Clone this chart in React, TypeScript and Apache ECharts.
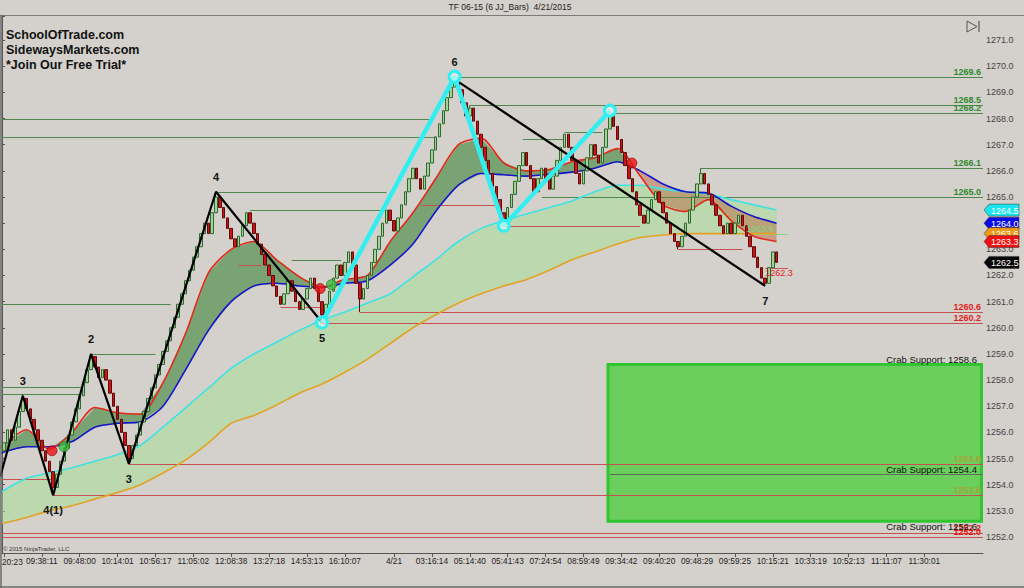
import React, { useEffect, useRef } from "react";
import * as echarts from "echarts";

// ---------------- data ----------------
const CATEGORY_COUNT = 259;
const FIRST_TIME_LABEL = "20:23";
const TIME_LABELS = ["", "09:38:11", "09:48:00", "10:14:01", "10:56:17", "11:05:02", "12:08:38", "13:27:18", "14:53:13", "16:10:07", "4/21", "03:16:14", "05:14:40", "05:41:43", "07:24:54", "08:59:49", "09:34:42", "09:40:20", "09:48:29", "09:59:25", "10:15:21", "10:33:19", "10:52:13", "11:11:07", "11:30:01"];
const TIME_LABEL_BARS = [0, 10, 20, 30, 40, 50, 60, 70, 80, 90, 103, 113, 123, 133, 143, 153, 163, 173, 183, 193, 203, 213, 223, 233, 243];

const FIRST_OPEN = 1255.3;
const CLOSES = [
  1255.6, 1256.1, 1255.7, 1256.2, 1256.8, 1257.3, 1256.9, 1256.5, 1256.1, 1255.7,
  1255.3, 1254.9, 1254.5, 1253.9, 1254.4, 1254.9, 1255.4, 1255.9, 1256.4, 1256.9,
  1257.4, 1257.9, 1258.4, 1258.9, 1258.5, 1258.1, 1258.4, 1258.0, 1257.5, 1257.0,
  1256.5, 1256.0, 1255.5, 1255.0, 1255.5, 1255.9, 1256.4, 1256.8, 1257.3, 1257.7,
  1258.2, 1258.6, 1259.1, 1259.5, 1260.0, 1260.4, 1260.9, 1261.3, 1261.8, 1262.2,
  1262.7, 1263.1, 1263.6, 1264.0, 1263.6, 1264.4, 1265.0, 1264.6, 1264.2, 1263.8,
  1263.4, 1263.1, 1263.5, 1263.9, 1264.4, 1264.0, 1263.6, 1263.2, 1262.8, 1262.4,
  1262.0, 1261.6, 1261.2, 1260.9, 1261.3, 1261.8, 1261.4, 1261.0, 1260.7, 1261.1,
  1261.5, 1261.9, 1261.5, 1261.0, 1260.5, 1260.9, 1261.4, 1261.9, 1262.4, 1262.0,
  1262.5, 1262.9, 1262.4, 1261.7, 1261.1, 1261.5, 1262.0, 1262.5, 1263.0, 1263.5,
  1264.0, 1264.5, 1264.1, 1263.7, 1264.2, 1264.7, 1265.2, 1265.7, 1266.1, 1265.7,
  1265.3, 1265.8, 1266.3, 1266.8, 1267.3, 1267.8, 1268.3, 1268.8, 1269.2, 1269.5,
  1269.1, 1268.6, 1268.1, 1268.4, 1267.9, 1267.4, 1266.9, 1266.4, 1265.9, 1265.4,
  1264.9, 1264.4, 1264.1, 1264.6, 1265.1, 1265.6, 1266.2, 1266.7, 1266.2, 1265.7,
  1265.2, 1265.7, 1266.1, 1265.7, 1265.3, 1265.8, 1266.4, 1266.9, 1267.4, 1266.9,
  1266.4, 1265.9, 1265.5, 1266.0, 1266.5, 1267.0, 1266.6, 1266.3, 1266.9, 1267.6,
  1268.1, 1267.7, 1267.2, 1266.7, 1266.2, 1265.7, 1265.2, 1264.7, 1264.3, 1264.0,
  1264.5, 1264.9, 1265.2, 1264.8, 1264.4, 1264.0, 1263.6, 1263.3, 1263.1, 1263.5,
  1264.0, 1264.5, 1265.0, 1265.5, 1265.9, 1265.5, 1265.1, 1264.7, 1264.3, 1263.9,
  1263.6, 1264.0, 1263.6, 1264.0, 1264.3, 1263.9, 1263.5, 1263.1, 1262.7, 1262.3,
  1261.9, 1261.7, 1262.3, 1262.9, 1262.5
];
const WICK_BARS = [5, 13, 23, 33, 56, 84, 94, 119, 123, 132, 160, 178, 184, 201];
const WICK_HIGHS = [1257.45, null, 1259.0, null, 1265.2, null, null, 1269.6, 1268.5, null, 1268.3, null, 1266.1, null];
const WICK_LOWS = [null, 1253.6, null, 1254.8, null, 1260.2, 1260.6, null, null, 1263.9, null, 1263.0, null, 1261.6];

// moving averages sampled at these bars
const MA_BARS = [-1, 6, 12, 18, 24, 30, 36, 42, 48, 54, 60, 66, 72, 78, 84, 90, 96, 102, 108, 114, 120, 126, 132, 138, 144, 150, 156, 162, 168, 174, 180, 186, 192, 198, 204];
const MA_FAST = [1255.4, 1256.1, 1255.35, 1256.0, 1256.95, 1256.75, 1256.7, 1257.9, 1259.8, 1262.1, 1263.0, 1263.3, 1262.6, 1261.95, 1261.55, 1261.85, 1262.0, 1263.3, 1264.4, 1265.7, 1267.0, 1267.25, 1266.3, 1266.0, 1266.05, 1266.35, 1266.5, 1266.85, 1265.8, 1264.7, 1264.45, 1264.9, 1264.1, 1263.5, 1263.3];
const MA_MID = [1255.2, 1255.45, 1255.45, 1255.65, 1256.2, 1256.35, 1256.4, 1257.0, 1258.4, 1259.9, 1261.0, 1261.6, 1261.7, 1261.6, 1261.55, 1261.7, 1261.8, 1262.4, 1263.2, 1264.45, 1265.45, 1265.9, 1265.85, 1265.8, 1265.87, 1265.95, 1266.1, 1266.35, 1266.0, 1265.5, 1265.2, 1265.15, 1264.65, 1264.25, 1264.0];
const MA_SLOW = [1253.7, 1254.25, 1254.45, 1254.65, 1254.9, 1255.15, 1255.5, 1256.2, 1256.95, 1257.7, 1258.45, 1259.0, 1259.45, 1259.9, 1260.3, 1260.6, 1260.95, 1261.3, 1261.95, 1262.6, 1263.3, 1263.8, 1264.1, 1264.35, 1264.6, 1264.85, 1265.2, 1265.45, 1265.45, 1265.3, 1265.2, 1265.1, 1264.9, 1264.7, 1264.5];
const MA_LONG = [1252.5, 1252.75, 1253.0, 1253.2, 1253.45, 1253.7, 1254.0, 1254.45, 1254.95, 1255.6, 1256.35, 1256.65, 1257.05, 1257.5, 1257.85, 1258.3, 1258.8, 1259.4, 1260.0, 1260.5, 1260.95, 1261.3, 1261.6, 1261.85, 1262.2, 1262.6, 1262.9, 1263.2, 1263.45, 1263.55, 1263.6, 1263.6, 1263.6, 1263.6, 1263.6];

// zigzags
const ZIGZAG_A_BARS = [-1, 5, 13, 23, 33, 56, 84];
const ZIGZAG_A_PRICES = [1254.3, 1257.4, 1253.6, 1259.0, 1254.8, 1265.2, 1260.2];
const ZIGZAG_B_BARS = [119.5, 201];
const ZIGZAG_B_PRICES = [1269.45, 1261.6];
const SWING_BARS = [84, 119, 132, 160];
const SWING_PRICES = [1260.2, 1269.6, 1263.9, 1268.3];
const PIVOT_BARS = [5, 13, 23, 33, 56, 84, 119, 201];
const PIVOT_PRICES = [1257.4, 1253.6, 1259.0, 1254.8, 1265.2, 1260.2, 1269.6, 1261.6];
const PIVOT_TEXT = ["3", "4(1)", "2", "3", "4", "5", "6", "7"];
const PIVOT_IS_HIGH = [true, false, true, false, true, false, true, false];

// MA cross markers
const CROSS_BARS = [12.7, 15.9, 83.5, 86.5, 165.8];
const CROSS_PRICES = [1255.3, 1255.45, 1261.5, 1261.65, 1266.3];
const CROSS_IS_UP = [false, true, false, true, false];

// horizontal levels (from bar, to bar; null = right edge)
const LEVEL_PRICES = [1269.6, 1268.5, 1268.2, 1268.0, 1267.3, 1266.1, 1265.0, 1265.2, 1264.5, 1260.9, 1259.0, 1257.75, 1257.45, 1262.6, 1267.2, 1267.5, 1263.6,
  1260.6, 1260.2, 1254.8, 1253.6, 1254.2, 1252.15, 1252.0, 1263.9, 1264.7, 1263.0, 1262.3, 1262.4, 1260.8, 1254.4];
const LEVEL_FROM = [119, 123, 160, -1, -1, 184, 142, 56, 65, -1, 23, -1, -1, 76, 137, 148, 195,
  94, 84, 33, 13, -1, -1, -1, 132, 110, 178, 201, 62, 73, 160];
const LEVEL_TO = [null, null, null, 113, 114, null, null, 101, 100, 44, 40, 21, 20, 89, 148, 158, 207,
  null, null, null, null, 13, null, null, 168, 131, 195, 207, 68, 84, null];
const LEVEL_KIND = ["g", "g", "g", "g", "g", "g", "g", "g", "g", "g", "g", "g", "g", "g", "g", "g", "lg",
  "r", "r", "r", "r", "r", "r", "r", "r", "r", "r", "r", "r", "r", "k"];

const EDGE_LABEL_PRICES = [1269.6, 1268.5, 1268.2, 1266.1, 1265.0, 1260.6, 1260.2, 1254.8, 1253.6, 1252.15, 1252.0];
const EDGE_LABEL_KIND = ["g", "g", "g", "g", "g", "r", "r", "o", "o", "r", "r"];

const INNER_LABEL_BARS = [196, 201];
const INNER_LABEL_PRICES = [1263.6, 1262.3];
const INNER_LABEL_KIND = ["lg", "r"];

const CRAB_PRICES = [1258.6, 1254.4, 1252.6];
const ZONE_FROM_BAR = 160;
const ZONE_TOP = 1258.6;
const ZONE_BOTTOM = 1252.6;

const TAG_PRICES = [1264.5, 1264.0, 1263.6, 1263.3, 1262.5];
const TAG_BG = ["#19e6ee", "#0a0ae6", "#ee9a12", "#ee1010", "#050505"];

const Y_MIN = 1251.39;
const Y_MAX = 1271.92;

// ---------------- styles ----------------
const BG = "#d4d1cc";
const FONT = '"Liberation Sans", Arial, sans-serif';
const LEVEL_COLORS: Record<string, string> = { g: "#4f874f", lg: "#86d486", r: "#c85050", k: "#5d6b5d" };
const LABEL_COLORS: Record<string, string> = { g: "#2f8a2f", r: "#e41c1c", o: "#a3a63a", lg: "#7fd67f" };

export default function App() {
  const ref = useRef<HTMLDivElement>(null);

  useEffect(() => {
    document.body.style.margin = "0";
    if (!ref.current) return;
    const chart = echarts.init(ref.current, null, { renderer: "svg" });

    const cats = Array.from({ length: CATEGORY_COUNT }, (_, i) => String(i));
    const labelAt: Record<number, string> = {};
    TIME_LABEL_BARS.forEach((b, k) => (labelAt[b] = TIME_LABELS[k]));

    const candles = CLOSES.map((c, i) => {
      const o = i === 0 ? FIRST_OPEN : CLOSES[i - 1];
      let hi = Math.max(o, c);
      let lo = Math.min(o, c);
      const w = WICK_BARS.indexOf(i);
      if (w >= 0) {
        if (WICK_HIGHS[w] != null) hi = WICK_HIGHS[w] as number;
        if (WICK_LOWS[w] != null) lo = WICK_LOWS[w] as number;
      }
      return [o, c, lo, hi];
    });

    const v = (bar: number) => bar + 0.5;
    const maLine = (arr: number[], color: string, width: number, z: number) => ({
      type: "line",
      xAxisIndex: 1,
      data: MA_BARS.map((b, k) => [v(b), arr[k]]),
      showSymbol: false,
      symbol: "none",
      smooth: 0.25,
      lineStyle: { color, width },
      z,
      silent: true,
    });

    const bandsRender = (params: any, api: any) => {
      const pt = (bar: number, price: number) => api.coord([v(bar), price]);
      const children: any[] = [];
      const up = MA_BARS.map((b, k) => pt(b, MA_SLOW[k]));
      const dn = MA_BARS.map((b, k) => pt(b, MA_LONG[k])).reverse();
      children.push({ type: "polygon", shape: { points: up.concat(dn) }, style: { fill: "rgba(168,222,150,0.55)" } });

      let sign = Math.sign(MA_FAST[0] - MA_MID[0]) || 1;
      let top: number[][] = [pt(MA_BARS[0], MA_FAST[0])];
      let bot: number[][] = [pt(MA_BARS[0], MA_MID[0])];
      const flush = () => {
        children.push({
          type: "polygon",
          shape: { points: top.concat(bot.slice().reverse()) },
          style: { fill: sign > 0 ? "rgba(45,125,40,0.55)" : "rgba(185,85,45,0.42)" },
        });
      };
      for (let k = 1; k < MA_BARS.length; k++) {
        const d0 = MA_FAST[k - 1] - MA_MID[k - 1];
        const d1 = MA_FAST[k] - MA_MID[k];
        const s1 = Math.sign(d1) || sign;
        if (s1 !== sign) {
          const t = d0 === d1 ? 0 : d0 / (d0 - d1);
          const b = MA_BARS[k - 1] + t * (MA_BARS[k] - MA_BARS[k - 1]);
          const p = MA_FAST[k - 1] + t * (MA_FAST[k] - MA_FAST[k - 1]);
          const c = pt(b, p);
          top.push(c);
          bot.push(c);
          flush();
          top = [c];
          bot = [c];
          sign = s1;
        }
        top.push(pt(MA_BARS[k], MA_FAST[k]));
        bot.push(pt(MA_BARS[k], MA_MID[k]));
      }
      flush();
      return { type: "group", children };
    };

    const option: any = {
      animation: false,
      backgroundColor: BG,
      textStyle: { fontFamily: FONT },
      grid: { left: 2, right: 41, top: 16, bottom: 35, outerBoundsMode: "none", containLabel: false },
      xAxis: [
        {
          type: "category",
          data: cats,
          boundaryGap: true,
          axisLine: { show: true, lineStyle: { color: "#555", width: 1 } },
          axisTick: {
            show: true,
            alignWithLabel: true,
            length: 4,
            interval: (idx: number) => labelAt[idx] !== undefined,
            lineStyle: { color: "#555" },
          },
          axisLabel: {
            show: true,
            interval: (idx: number) => labelAt[idx] !== undefined,
            formatter: (_val: string, idx: number) => labelAt[idx] ?? "",
            color: "#222",
            fontSize: 8.3,
            fontFamily: FONT,
            margin: 4,
            hideOverlap: false,
          },
          splitLine: { show: false },
        },
        { type: "value", min: 0, max: CATEGORY_COUNT, show: false },
      ],
      yAxis: {
        type: "value",
        position: "right",
        min: Y_MIN,
        max: Y_MAX,
        splitNumber: 20,
        axisLine: { show: true, lineStyle: { color: "#555" } },
        axisTick: { show: true, length: 3, lineStyle: { color: "#555" } },
        axisLabel: {
          color: "#444",
          fontSize: 9,
          fontFamily: FONT,
          margin: 3,
          formatter: (val: number) => (Math.abs(val - Math.round(val)) < 1e-6 ? val.toFixed(1) : ""),
        },
        splitLine: { show: false },
      },
      graphic: [
        { type: "line", shape: { x1: 0, y1: 15.5, x2: 1024, y2: 15.5 }, style: { stroke: "#7a7a7a", lineWidth: 1 }, z: 100 },
        { type: "line", shape: { x1: 1, y1: 15, x2: 1, y2: 588 }, style: { stroke: "#6a6a6a", lineWidth: 1.5 }, z: 100 },
        { type: "line", shape: { x1: 0, y1: 587, x2: 1024, y2: 587 }, style: { stroke: "#6a6a6a", lineWidth: 1.5 }, z: 100 },
        { type: "text", style: { text: FIRST_TIME_LABEL, x: 2, y: 562, textVerticalAlign: "middle", font: `8.3px ${FONT}`, fill: "#222" }, z: 100 },
        { type: "text", style: { text: "TF 06-15 (6 JJ_Bars)  4/21/2015", x: 510, y: 7, textAlign: "center", textVerticalAlign: "middle", font: `8.5px ${FONT}`, fill: "#222" }, z: 100 },
        { type: "text", style: { text: "SchoolOfTrade.com", x: 6, y: 35, textVerticalAlign: "middle", font: `bold 12.5px ${FONT}`, fill: "#111" }, z: 100 },
        { type: "text", style: { text: "SidewaysMarkets.com", x: 6, y: 50, textVerticalAlign: "middle", font: `bold 12.5px ${FONT}`, fill: "#111" }, z: 100 },
        { type: "text", style: { text: "*Join Our Free Trial*", x: 6, y: 65, textVerticalAlign: "middle", font: `bold 12.5px ${FONT}`, fill: "#111" }, z: 100 },
        { type: "text", style: { text: "© 2015 NinjaTrader, LLC", x: 3, y: 549, textVerticalAlign: "middle", font: `6px ${FONT}`, fill: "#333" }, z: 100 },
        { type: "polygon", shape: { points: [[967, 21], [977, 26.5], [967, 32]] }, style: { fill: "none", stroke: "#555", lineWidth: 1 }, z: 100 },
        { type: "line", shape: { x1: 979, y1: 21, x2: 979, y2: 32 }, style: { stroke: "#555", lineWidth: 1.2 }, z: 100 },
      ],
      series: [
        // light + crossover bands
        {
          type: "custom",
          xAxisIndex: 1,
          data: [[1, 1260]],
          renderItem: bandsRender,
          clip: true,
          z: 1,
          silent: true,
        },
        // support zone
        {
          type: "custom",
          xAxisIndex: 1,
          data: [[ZONE_FROM_BAR, ZONE_TOP]],
          clip: true,
          z: 2,
          silent: true,
          renderItem: (params: any, api: any) => {
            const a = api.coord([ZONE_FROM_BAR, ZONE_TOP]);
            const b = api.coord([CATEGORY_COUNT, ZONE_BOTTOM]);
            const cs = params.coordSys;
            return {
              type: "rect",
              shape: { x: a[0], y: a[1], width: cs.x + cs.width - a[0] - 1.5, height: b[1] - a[1] },
              style: { fill: "rgba(78,205,60,0.78)", stroke: "#2fc62f", lineWidth: 3 },
            };
          },
        },
        // levels
        {
          type: "custom",
          xAxisIndex: 1,
          data: LEVEL_PRICES.map((p, i) => [v(LEVEL_FROM[i]), p]),
          clip: true,
          z: 3,
          silent: true,
          renderItem: (params: any, api: any) => {
            const i = params.dataIndex;
            const to = LEVEL_TO[i] == null ? CATEGORY_COUNT : v(LEVEL_TO[i] as number);
            const a = api.coord([v(LEVEL_FROM[i]), LEVEL_PRICES[i]]);
            const b = api.coord([to, LEVEL_PRICES[i]]);
            const y = Math.round(a[1]) + 0.5;
            return {
              type: "line",
              shape: { x1: a[0], y1: y, x2: b[0], y2: y },
              style: { stroke: LEVEL_COLORS[LEVEL_KIND[i]], lineWidth: 1 },
            };
          },
        },
        maLine(MA_LONG, "#e3a224", 1.6, 4),
        maLine(MA_SLOW, "#3ee3e3", 1.6, 4),
        maLine(MA_MID, "#1414c8", 1.6, 4),
        maLine(MA_FAST, "#e02a1a", 1.6, 4),
        {
          type: "candlestick",
          xAxisIndex: 0,
          data: candles,
          barWidth: 3,
          z: 5,
          silent: true,
          itemStyle: {
            color: "#a9cf9a",
            color0: "#cc1414",
            borderColor: "#2a6a2a",
            borderColor0: "#5e0a0a",
            borderWidth: 1,
          },
        },
        // zigzags
        {
          type: "line",
          xAxisIndex: 1,
          data: ZIGZAG_A_BARS.map((b, k) => [v(b), ZIGZAG_A_PRICES[k]]),
          showSymbol: false,
          symbol: "none",
          lineStyle: { color: "#000", width: 2.2 },
          z: 6,
          silent: true,
        },
        {
          type: "line",
          xAxisIndex: 1,
          data: ZIGZAG_B_BARS.map((b, k) => [v(b), ZIGZAG_B_PRICES[k]]),
          showSymbol: false,
          symbol: "none",
          lineStyle: { color: "#000", width: 2.2 },
          z: 6,
          silent: true,
        },
        {
          type: "line",
          xAxisIndex: 1,
          data: SWING_BARS.map((b, k) => [v(b), SWING_PRICES[k]]),
          symbol: "circle",
          symbolSize: 11,
          showSymbol: true,
          itemStyle: { color: "rgba(225,250,250,0.6)", borderColor: "#33eef0", borderWidth: 3 },
          lineStyle: { color: "#33eef0", width: 4.5 },
          z: 7,
          silent: true,
        },
        // cross markers
        {
          type: "scatter",
          xAxisIndex: 1,
          data: CROSS_BARS.map((b, k) => ({
            value: [v(b), CROSS_PRICES[k]],
            itemStyle: CROSS_IS_UP[k]
              ? { color: "#3cc23c", borderColor: "#1f6f1f", borderWidth: 0.8 }
              : { color: "#e81212", borderColor: "#8a0000", borderWidth: 0.8 },
          })),
          symbolSize: 10,
          z: 8,
          silent: true,
        },
        // pivot labels
        {
          type: "custom",
          xAxisIndex: 1,
          data: PIVOT_BARS.map((b, k) => [v(b), PIVOT_PRICES[k]]),
          clip: false,
          z: 9,
          silent: true,
          renderItem: (params: any, api: any) => {
            const i = params.dataIndex;
            const p = api.coord([v(PIVOT_BARS[i]), PIVOT_PRICES[i]]);
            return {
              type: "text",
              style: {
                text: PIVOT_TEXT[i],
                x: p[0],
                y: p[1] + (PIVOT_IS_HIGH[i] ? -15 : 15),
                textAlign: "center",
                textVerticalAlign: "middle",
                font: `bold 11px ${FONT}`,
                fill: "#111",
              },
            };
          },
        },
        // edge labels for levels
        {
          type: "custom",
          xAxisIndex: 1,
          data: EDGE_LABEL_PRICES.map((p) => [CATEGORY_COUNT, p]),
          clip: false,
          z: 9,
          silent: true,
          renderItem: (params: any, api: any) => {
            const i = params.dataIndex;
            const p = api.coord([CATEGORY_COUNT, EDGE_LABEL_PRICES[i]]);
            return {
              type: "text",
              style: {
                text: EDGE_LABEL_PRICES[i].toFixed(1),
                x: p[0] - 2,
                y: p[1] - 0.5,
                textAlign: "right",
                textVerticalAlign: "bottom",
                font: `bold 9px ${FONT}`,
                fill: LABEL_COLORS[EDGE_LABEL_KIND[i]],
              },
            };
          },
        },
        // inner labels near last bar
        {
          type: "custom",
          xAxisIndex: 1,
          data: INNER_LABEL_BARS.map((b, k) => [v(b), INNER_LABEL_PRICES[k]]),
          clip: false,
          z: 9,
          silent: true,
          renderItem: (params: any, api: any) => {
            const i = params.dataIndex;
            const p = api.coord([v(INNER_LABEL_BARS[i]), INNER_LABEL_PRICES[i]]);
            return {
              type: "text",
              style: {
                text: INNER_LABEL_PRICES[i].toFixed(1),
                x: p[0],
                y: p[1] + (i === 0 ? -5 : 5),
                textAlign: "left",
                textVerticalAlign: "middle",
                font: `9px ${FONT}`,
                fill: LABEL_COLORS[INNER_LABEL_KIND[i]],
              },
            };
          },
        },
        // crab support labels
        {
          type: "custom",
          xAxisIndex: 1,
          data: CRAB_PRICES.map((p) => [CATEGORY_COUNT, p]),
          clip: false,
          z: 9,
          silent: true,
          renderItem: (params: any, api: any) => {
            const i = params.dataIndex;
            const p = api.coord([CATEGORY_COUNT, CRAB_PRICES[i]]);
            const below = i === CRAB_PRICES.length - 1;
            return {
              type: "text",
              style: {
                text: "Crab Support: " + CRAB_PRICES[i].toFixed(1),
                x: p[0] - 6,
                y: p[1] + (below ? 5.5 : -4.5),
                textAlign: "right",
                textVerticalAlign: "middle",
                font: `9.5px ${FONT}`,
                fill: "#111",
              },
            };
          },
        },
        // right price tags
        {
          type: "custom",
          xAxisIndex: 1,
          data: TAG_PRICES.map((p) => [CATEGORY_COUNT, p]),
          clip: false,
          z: 20,
          silent: true,
          renderItem: (params: any, api: any) => {
            const i = params.dataIndex;
            const cs = params.coordSys;
            const y = api.coord([CATEGORY_COUNT, TAG_PRICES[i]])[1];
            const x0 = cs.x + cs.width + 1;
            return {
              type: "group",
              children: [
                {
                  type: "polygon",
                  shape: { points: [[x0, y], [x0 + 5, y - 6], [x0 + 35, y - 6], [x0 + 35, y + 6], [x0 + 5, y + 6]] },
                  style: { fill: TAG_BG[i], stroke: "#333", lineWidth: 0.5 },
                },
                {
                  type: "text",
                  style: {
                    text: TAG_PRICES[i].toFixed(1),
                    x: x0 + 7,
                    y: y + 0.5,
                    textVerticalAlign: "middle",
                    font: `9px ${FONT}`,
                    fill: "#ffffff",
                  },
                },
              ],
            };
          },
        },
      ],
    };

    chart.setOption(option);
    return () => chart.dispose();
  }, []);

  return <div ref={ref} style={{ width: 1024, height: 588, background: BG }} />;
}
